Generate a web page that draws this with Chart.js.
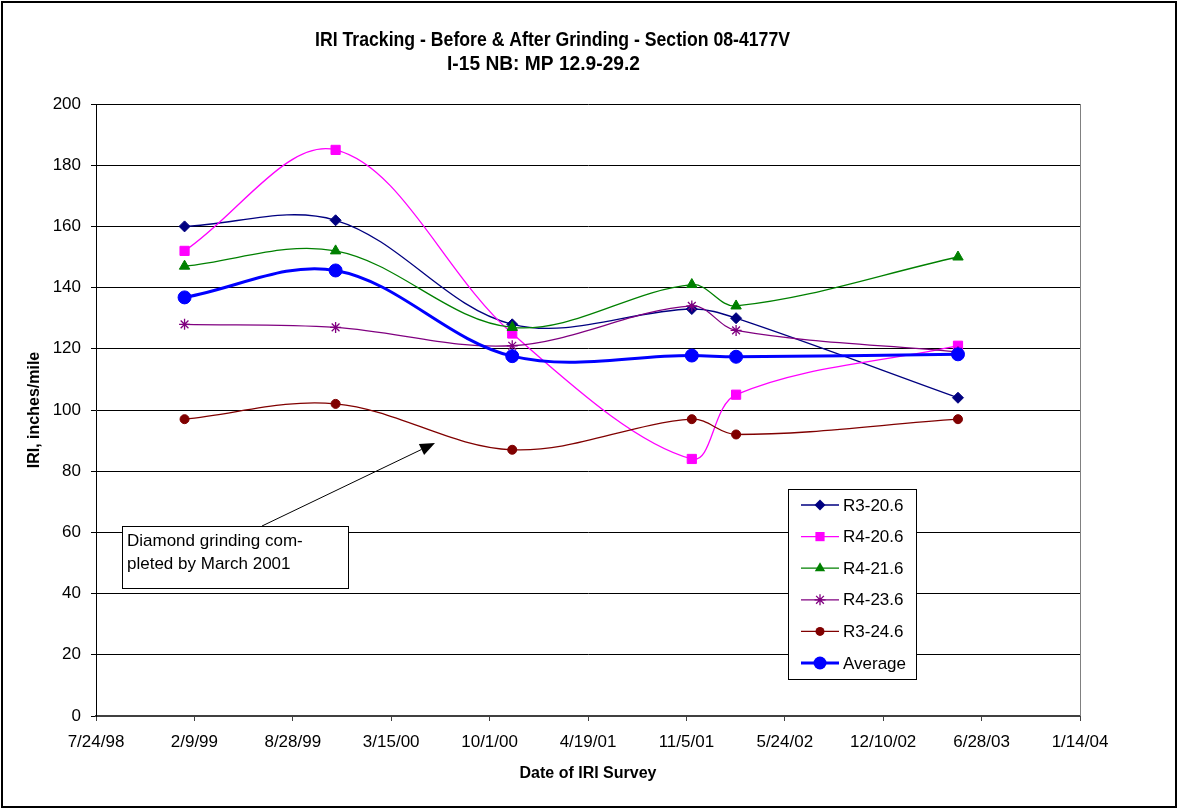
<!DOCTYPE html>
<html>
<head>
<meta charset="utf-8">
<script src="https://cdn.jsdelivr.net/npm/chart.js"></script>
<style>
  body { margin: 0; background: #fff; }
  #wrap { width: 1178px; height: 809px; }
</style>
</head>
<body>
<div id="wrap"><canvas id="grafica" width="1178" height="809"></canvas></div>
<script>

// survey dates
const surveyDates = ['1999-01-20', '1999-11-23', '2000-11-16', '2001-11-16', '2002-02-14', '2003-05-11'];

// IRI values, inches/mile
const r3_206 = [160, 162, 128, 133, 130, 104];
const r4_206 = [152, 185, 125, 84, 105, 121];
const r4_216 = [147, 152, 127, 141, 134, 150];
const r4_236 = [128, 127, 121, 134, 126, 119];
const r3_246 = [97, 102, 87, 97, 92, 97];
const average = [136.8, 145.6, 117.6, 117.8, 117.4, 118.2];

const seriesNames = ['R3-20.6', 'R4-20.6', 'R4-21.6', 'R4-23.6', 'R3-24.6', 'Average'];

// x axis starts at 7/24/98, ticks every 200 days
const axisStart = '1998-07-24';
const xTickStep = 200;
const xTickCount = 10;
const yTicks = [0, 20, 40, 60, 80, 100, 120, 140, 160, 180, 200];

const titleLines = ['IRI Tracking - Before & After Grinding - Section 08-4177V', 'I-15 NB: MP 12.9-29.2'];
const noteLines = ['Diamond grinding com-', 'pleted by March 2001'];

const FONT = 'Arial, "Liberation Sans", sans-serif';
const DAY = 86400000;

function toDays(s) {
    let p = s.split('-');
    let a = axisStart.split('-');
    return (Date.UTC(p[0], p[1] - 1, p[2]) - Date.UTC(a[0], a[1] - 1, a[2])) / DAY;
}

function dayLabel(v) {
    let a = axisStart.split('-');
    let d = new Date(Date.UTC(a[0], a[1] - 1, a[2]) + v * DAY);
    let yy = ('0' + (d.getUTCFullYear() % 100)).slice(-2);
    return `${d.getUTCMonth() + 1}/${d.getUTCDate()}/${yy}`;
}

const xs = surveyDates.map(toDays);
const pts = (vals) => vals.map((v, i) => ({ x: xs[i], y: v }));

const styles = [
    { color: '#000080', point: 'rectRot', r: 5.5, w: 1.3 },
    { color: '#FF00FF', point: 'rect', r: 6.5, w: 1.3 },
    { color: '#008000', point: 'triangle', r: 6, w: 1.3 },
    { color: '#800080', point: 'star', r: 5.5, w: 1.3 },
    { color: '#800000', point: 'circle', r: 4.5, w: 1.3 },
    { color: '#0000FF', point: 'circle', r: 6.5, w: 3 }
];
const allSeries = [r3_206, r4_206, r4_216, r4_236, r3_246, average];

const datasets = allSeries.map((vals, i) => ({
    label: seriesNames[i],
    data: pts(vals),
    borderColor: styles[i].color,
    backgroundColor: styles[i].color,
    borderWidth: styles[i].w,
    pointStyle: styles[i].point,
    pointRadius: styles[i].r,
    pointBorderWidth: styles[i].point == 'star' ? 1.3 : 1,
    pointBackgroundColor: styles[i].color,
    pointBorderColor: styles[i].color,
    tension: 0.35,
    order: i == 5 ? 0 : 6 - i
}));

function marker(ctx, st, x, y) {
    let r = st.r;
    ctx.save();
    ctx.fillStyle = st.color;
    ctx.strokeStyle = st.color;
    ctx.lineWidth = 1.3;
    ctx.beginPath();
    if (st.point == 'rectRot') {
        ctx.moveTo(x, y - r); ctx.lineTo(x + r, y); ctx.lineTo(x, y + r); ctx.lineTo(x - r, y);
        ctx.closePath(); ctx.fill();
    } else if (st.point == 'rect') {
        let h = r * Math.SQRT1_2;
        ctx.rect(x - h, y - h, h * 2, h * 2); ctx.fill();
    } else if (st.point == 'triangle') {
        ctx.moveTo(x, y - r); ctx.lineTo(x + r * 0.866, y + r * 0.5); ctx.lineTo(x - r * 0.866, y + r * 0.5);
        ctx.closePath(); ctx.fill();
    } else if (st.point == 'star') {
        for (let k = 0; k < 4; k++) {
            let a = k * Math.PI / 4;
            ctx.moveTo(x - r * Math.cos(a), y - r * Math.sin(a));
            ctx.lineTo(x + r * Math.cos(a), y + r * Math.sin(a));
        }
        ctx.stroke();
    } else {
        ctx.arc(x, y, r, 0, Math.PI * 2); ctx.fill();
    }
    ctx.restore();
}

function fitText(ctx, text, cx, cy, font, width) {
    ctx.save();
    ctx.font = font;
    let w = ctx.measureText(text).width;
    ctx.translate(cx, cy);
    ctx.scale(width / w, 1);
    ctx.textAlign = 'center';
    ctx.textBaseline = 'middle';
    ctx.fillText(text, 0, 0);
    ctx.restore();
}

const extras = {
    id: 'extras',
    beforeDraw(chart) {
        let ctx = chart.ctx;
        ctx.save();
        ctx.fillStyle = '#fff';
        ctx.fillRect(0, 0, chart.width, chart.height);
        ctx.restore();
    },
    afterDraw(chart) {
        let ctx = chart.ctx;
        let a = chart.chartArea;
        ctx.save();

        // outer frame
        ctx.strokeStyle = '#000';
        ctx.lineWidth = 2;
        ctx.strokeRect(2, 2, 1174, 805);

        // plot area right edge
        ctx.strokeStyle = '#808080';
        ctx.lineWidth = 1;
        ctx.beginPath();
        ctx.moveTo(Math.round(a.right) + 0.5, a.top);
        ctx.lineTo(Math.round(a.right) + 0.5, a.bottom);
        ctx.stroke();

        // title
        ctx.fillStyle = '#000';
        fitText(ctx, titleLines[0], 552.5, 40, 'bold 20px ' + FONT, 475);
        fitText(ctx, titleLines[1], 543.5, 64, 'bold 20px ' + FONT, 193);

        // note box + arrow
        ctx.fillStyle = '#fff';
        ctx.fillRect(122, 526, 226, 62);
        ctx.strokeStyle = '#000';
        ctx.lineWidth = 1;
        ctx.strokeRect(122.5, 526.5, 226, 62);
        ctx.fillStyle = '#000';
        ctx.font = '17px ' + FONT;
        ctx.textAlign = 'left';
        ctx.textBaseline = 'middle';
        ctx.fillText(noteLines[0], 127, 541);
        ctx.fillText(noteLines[1], 127, 564);

        let x0 = 262, y0 = 526, x1 = 435, y1 = 443;
        let ang = Math.atan2(y1 - y0, x1 - x0);
        let hl = 15, hw = 6;
        ctx.beginPath();
        ctx.moveTo(x0, y0);
        ctx.lineTo(x1 - hl * Math.cos(ang), y1 - hl * Math.sin(ang));
        ctx.stroke();
        ctx.beginPath();
        ctx.moveTo(x1, y1);
        ctx.lineTo(x1 - hl * Math.cos(ang) + hw * Math.sin(ang), y1 - hl * Math.sin(ang) - hw * Math.cos(ang));
        ctx.lineTo(x1 - hl * Math.cos(ang) - hw * Math.sin(ang), y1 - hl * Math.sin(ang) + hw * Math.cos(ang));
        ctx.closePath();
        ctx.fill();

        // legend
        ctx.fillStyle = '#fff';
        ctx.fillRect(788, 489, 128, 190);
        ctx.strokeStyle = '#000';
        ctx.strokeRect(788.5, 489.5, 128, 190);
        ctx.font = '17px ' + FONT;
        for (let i = 0; i < seriesNames.length; i++) {
            let y = 505 + i * 31.6;
            ctx.strokeStyle = styles[i].color;
            ctx.lineWidth = styles[i].w;
            ctx.beginPath();
            ctx.moveTo(801, y);
            ctx.lineTo(839, y);
            ctx.stroke();
            marker(ctx, styles[i], 820, y);
            ctx.fillStyle = '#000';
            ctx.fillText(seriesNames[i], 843, y + 1);
        }
        ctx.restore();
    }
};

new Chart('grafica', {
    type: 'line',
    data: { datasets: datasets },
    options: {
        responsive: false,
        animation: false,
        layout: { padding: { top: 104, right: 98, bottom: 0, left: 0 } },
        plugins: {
            legend: { display: false },
            title: { display: false },
            tooltip: { enabled: false }
        },
        scales: {
            x: {
                type: 'linear',
                min: 0,
                max: xTickStep * xTickCount,
                afterFit: (s) => { s.height = 93; },
                afterBuildTicks: (s) => {
                    s.ticks = [];
                    for (let k = 0; k <= xTickCount; k++) s.ticks.push({ value: k * xTickStep });
                },
                ticks: {
                    callback: (v) => dayLabel(v),
                    color: '#000',
                    font: { family: FONT, size: 17 },
                    padding: 11,
                    maxRotation: 0,
                    autoSkip: false
                },
                grid: { drawOnChartArea: false, drawTicks: true, tickLength: 5, color: '#404040' },
                border: { color: '#404040', width: 2 },
                title: {
                    display: true,
                    text: 'Date of IRI Survey',
                    color: '#000',
                    font: { family: FONT, size: 16, weight: 'bold' },
                    padding: { top: 0, bottom: 26 }
                }
            },
            y: {
                min: 0,
                max: 200,
                afterFit: (s) => { s.width = 96; },
                afterBuildTicks: (s) => { s.ticks = yTicks.map(v => ({ value: v })); },
                ticks: {
                    color: '#000',
                    font: { family: FONT, size: 17 },
                    padding: 10
                },
                grid: { color: '#000', lineWidth: 1, tickLength: 5 },
                border: { color: '#000', width: 1 },
                title: {
                    display: true,
                    text: 'IRI, inches/mile',
                    color: '#000',
                    font: { family: FONT, size: 16, weight: 'bold' },
                    padding: { top: 25, bottom: 0 }
                }
            }
        }
    },
    plugins: [extras]
});
</script>
</body>
</html>
